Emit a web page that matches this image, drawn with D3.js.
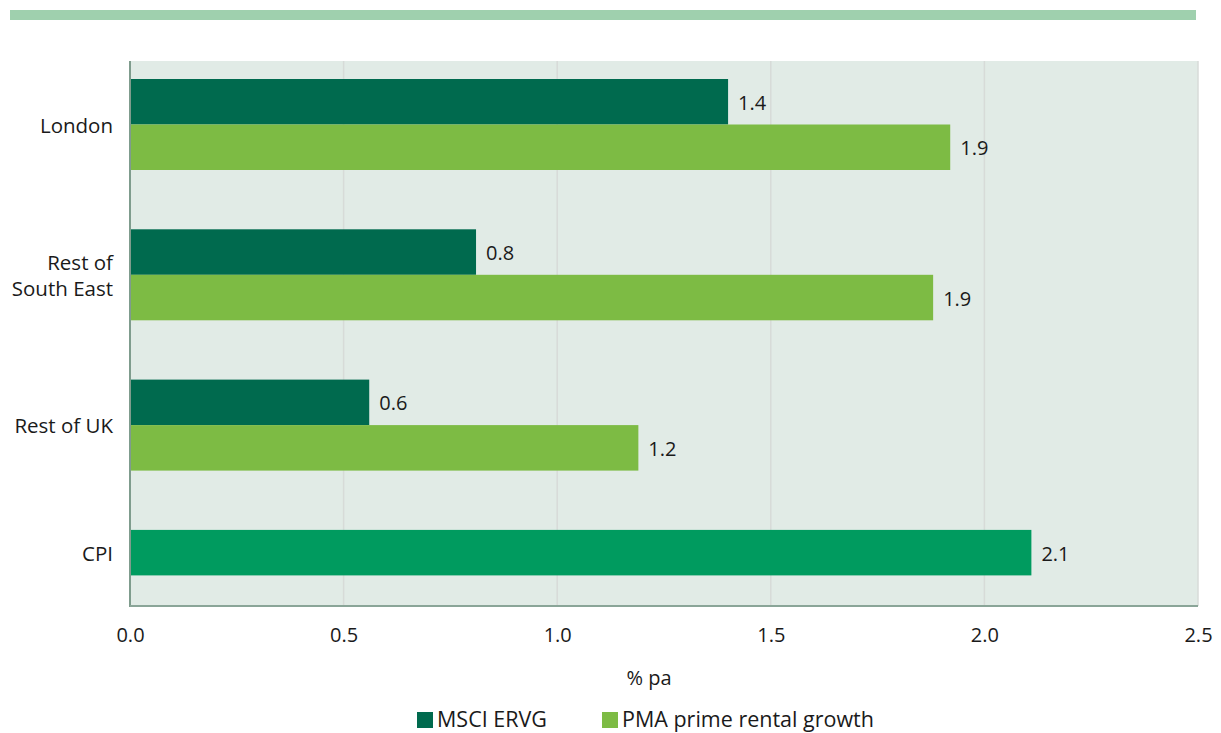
<!DOCTYPE html>
<html><head><meta charset="utf-8">
<script src="https://cdn.jsdelivr.net/npm/d3@7"></script>
<style>
body{margin:0;background:#fff;}
svg text{font-family:"Open Sans","Noto Sans",sans-serif;fill:#1a1a1a;}
</style></head>
<body><svg id="c" width="1221" height="733"></svg>
<script>
const categories = ["London", "Rest of\nSouth East", "Rest of UK", "CPI"];
const seriesNames = ["MSCI ERVG", "PMA prime rental growth"];
const msciValues = [1.40, 0.81, 0.56, null];
const pmaValues = [1.92, 1.88, 1.19, null];
const cpiValues = [null, null, null, 2.11];
const xTicks = [0, 0.5, 1.0, 1.5, 2.0, 2.5];
const colors = {msci: "#006a4e", pma: "#7dbb44", cpi: "#009b5f"};

(function(){
const svg = d3.select("#c");
const pL = 130, pR = 1198, pT = 61, pB = 606;

// header band
svg.append("rect").attr("x", 10).attr("y", 10).attr("width", 1186).attr("height", 10).attr("fill", "#9fd0ae");

const x = d3.scaleLinear().domain([0, 2.5]).range([pL, pR]);
const y = d3.scaleBand().domain(categories).range([79, 79 + 150.3 * 3 + 91]).paddingInner(59.3 / 150.3).paddingOuter(0);
const ySub = d3.scaleBand().domain(["msci", "pma"]).range([0, y.bandwidth()]);

// plot background
svg.append("rect").attr("x", pL).attr("y", pT).attr("width", pR - pL).attr("height", pB - pT).attr("fill", "#e1ebe6");

// gridlines
svg.append("g").selectAll("line").data(xTicks.slice(1)).join("line")
  .attr("x1", d => x(d)).attr("x2", d => x(d)).attr("y1", pT).attr("y2", pB)
  .attr("stroke", "#d7dbd8").attr("stroke-width", 1.5);

// bars
const bars = [];
categories.forEach((c, i) => {
  if (msciValues[i] != null) bars.push({cat: c, key: "msci", v: msciValues[i], slot: "msci"});
  if (pmaValues[i] != null) bars.push({cat: c, key: "pma", v: pmaValues[i], slot: "pma"});
  if (cpiValues[i] != null) bars.push({cat: c, key: "cpi", v: cpiValues[i], slot: "msci"});
});
const g = svg.append("g");
g.selectAll("rect").data(bars).join("rect")
  .attr("x", x(0)).attr("y", d => y(d.cat) + ySub(d.slot))
  .attr("width", d => x(d.v) - x(0)).attr("height", ySub.bandwidth())
  .attr("fill", d => colors[d.key]);
g.selectAll("text").data(bars).join("text")
  .attr("x", d => x(d.v) + 10).attr("y", d => y(d.cat) + ySub(d.slot) + ySub.bandwidth() / 2 + 1)
  .attr("dy", "0.35em").attr("font-size", 20)
  .text(d => d3.format(".1f")(d.v));

// axes lines
svg.append("line").attr("x1", pL).attr("x2", pL).attr("y1", pT).attr("y2", pB + 1).attr("stroke", "#7f9c8d").attr("stroke-width", 2);
svg.append("line").attr("x1", pL).attr("x2", pR).attr("y1", pB).attr("y2", pB).attr("stroke", "#8aa598").attr("stroke-width", 2);

// x axis
const xAxis = svg.append("g").attr("transform", `translate(0,${pB})`)
  .call(d3.axisBottom(x).tickValues(xTicks).tickFormat(d3.format(".1f")).tickSize(0).tickPadding(22));
xAxis.select(".domain").remove();
xAxis.selectAll("text").attr("font-size", 20).attr("fill", "#1a1a1a").attr("font-family", "Open Sans, Noto Sans, sans-serif");

svg.append("text").attr("x", 649).attr("y", 678).attr("dy", "0.35em").attr("text-anchor", "middle").attr("font-size", 20).text("% pa");

// y labels
categories.forEach((c, i) => {
  let center;
  if (cpiValues[i] != null && msciValues[i] == null) center = y(c) + ySub("msci") + ySub.bandwidth() / 2;
  else center = y(c) + y.bandwidth() / 2;
  const lines = c.split("\n");
  const t = svg.append("text").attr("text-anchor", "end").attr("font-size", 20.5);
  lines.forEach((l, k) => {
    t.append("tspan").attr("x", 113).attr("y", center + 1 + (k - (lines.length - 1) / 2) * 26).attr("dy", "0.35em").text(l);
  });
});

// legend
const legend = [{name: seriesNames[0], c: colors.msci, x: 417}, {name: seriesNames[1], c: colors.pma, x: 602}];
const lg = svg.append("g");
lg.selectAll("rect").data(legend).join("rect").attr("x", d => d.x).attr("y", 712).attr("width", 16).attr("height", 16).attr("fill", d => d.c);
lg.selectAll("text").data(legend).join("text").attr("x", d => d.x + 20).attr("y", 719).attr("dy", "0.35em").attr("font-size", 21.5).text(d => d.name);
})();
</script></body></html>
